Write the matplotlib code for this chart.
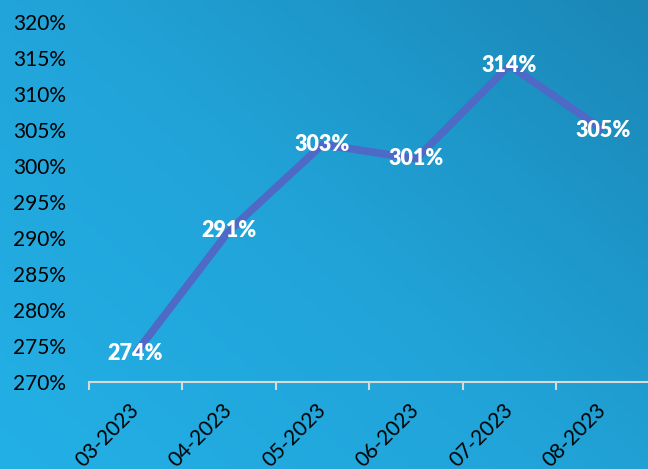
import numpy as np
import matplotlib
matplotlib.use('Agg')
import matplotlib.pyplot as plt
from matplotlib.colors import LinearSegmentedColormap

### Data

months = ['03-2023', '04-2023', '05-2023', '06-2023', '07-2023', '08-2023']
values = [274, 291, 303, 301, 314, 305]
y_ticks = [270, 275, 280, 285, 290, 295, 300, 305, 310, 315, 320]

plt.rcParams['font.family'] = ['Lato', 'DejaVu Sans']

### Figure with gradient background

fig = plt.figure(figsize=(6.48, 4.69), dpi=100)

bg = fig.add_axes([0, 0, 1, 1])
gx, gy = np.meshgrid(np.linspace(0, 1, 200), np.linspace(0, 1, 200))
# 0 at bottom-left (light), 1 at top-right (dark)
grad = (gx * 0.55 + gy * 0.45)
cmap = LinearSegmentedColormap.from_list('bg', ['#23b0e6', '#21a3d8', '#1a87b6'])
bg.imshow(grad, cmap=cmap, origin='lower', extent=[0, 1, 0, 1], aspect='auto')
bg.axis('off')

ax = fig.add_axes([0.137, 0.1855, 0.866, 0.7675])
ax.set_facecolor('none')

x = np.arange(len(months))
ax.plot(x, values, color='#4e6ac6', linewidth=5.5, solid_capstyle='butt', zorder=2)

for xi, v in zip(x, values):
    ax.text(xi, v, f'{v}%', color='white', fontsize=15.5, fontweight='heavy',
            ha='center', va='center', zorder=3)

### Axes styling

ax.set_xlim(-0.5, len(months) - 0.5)
ax.set_ylim(270, 320)

ax.set_yticks(y_ticks)
ax.set_yticklabels([f'{t}%' for t in y_ticks])
ax.tick_params('y', length=0, pad=16.5, labelsize=15, labelcolor='black')

ax.set_xticks(x)
ax.set_xticklabels(months, rotation=45, ha='right', va='center', rotation_mode='anchor')
ax.tick_params('x', which='major', length=0, pad=18, labelsize=15, labelcolor='black')
ax.set_xticks(np.arange(-0.5, len(months)), minor=True)
ax.tick_params('x', which='minor', length=6, width=1.5, color='#d9d9d9')

for side in ['top', 'right', 'left']:
    ax.spines[side].set_visible(False)
ax.spines['bottom'].set_color('#d9d9d9')
ax.spines['bottom'].set_linewidth(1.5)

fig.savefig('out.png', dpi=100)
plt.close(fig)
